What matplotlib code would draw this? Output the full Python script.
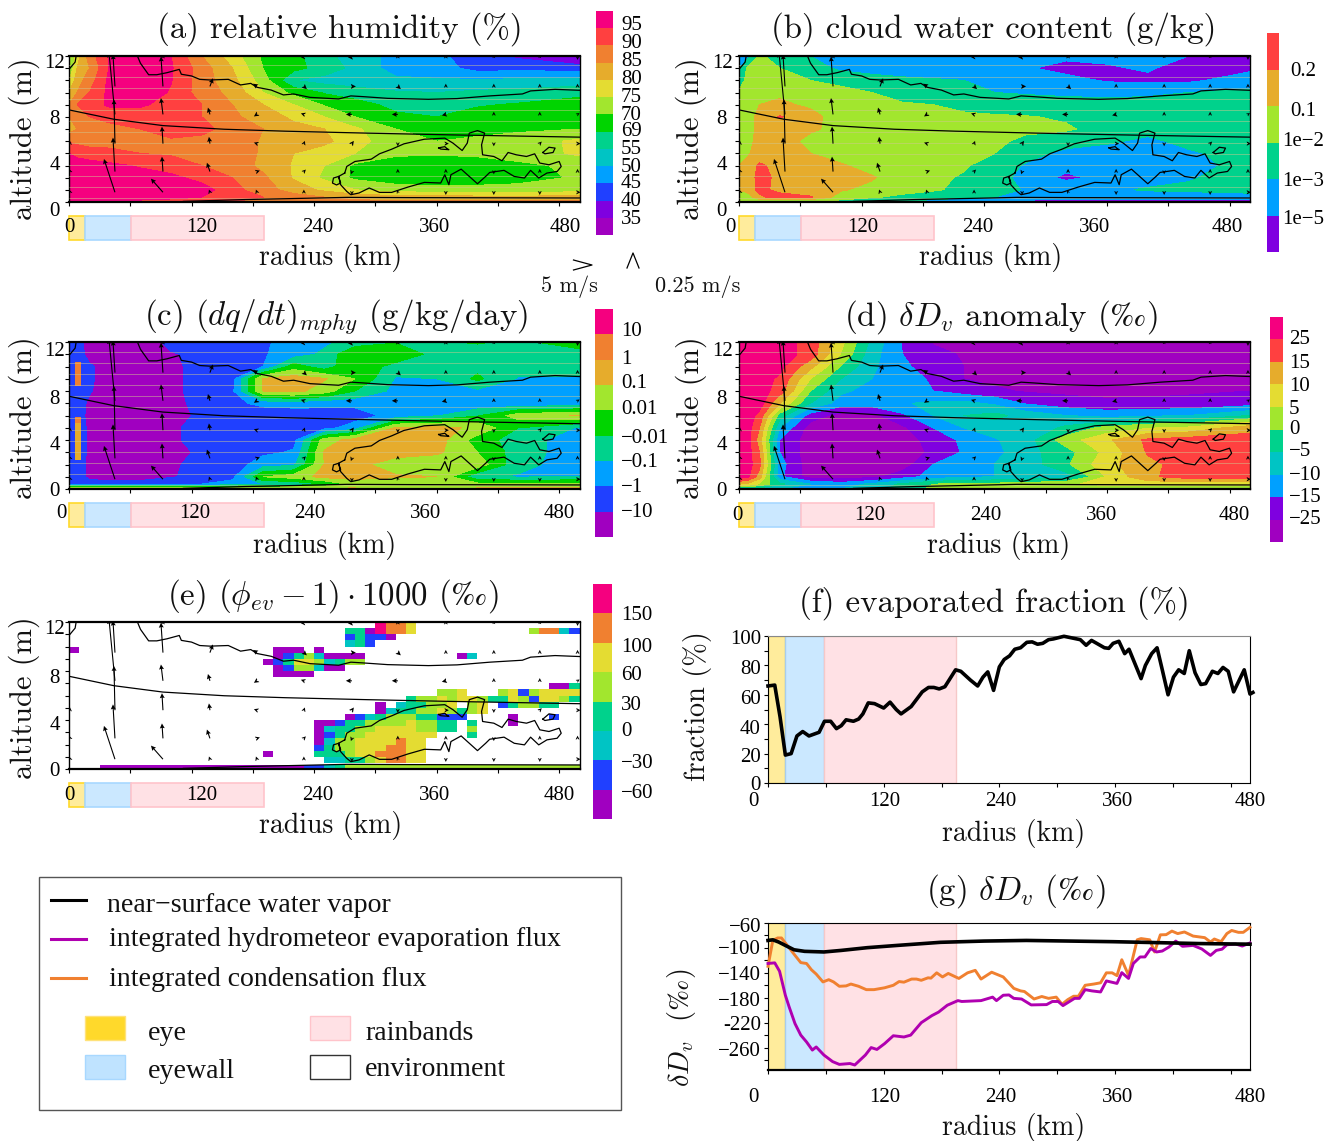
import numpy as np
import matplotlib
matplotlib.use("Agg")
import matplotlib.pyplot as plt
from matplotlib.colors import ListedColormap, BoundaryNorm
from matplotlib.cm import ScalarMappable
from matplotlib.patches import Rectangle
from matplotlib.lines import Line2D
from matplotlib.transforms import ScaledTranslation

plt.rcParams['font.family'] = ['cmr10', 'Liberation Serif', 'DejaVu Sans']
plt.rcParams['mathtext.fontset'] = 'cm'
plt.rcParams['axes.unicode_minus'] = False
TICKFONT = 'Liberation Serif'

W, H = 1336, 1141
fig = plt.figure(figsize=(W/100, H/100), dpi=100)

# ---- palette
PURPLE, INDIGO, BLUE, SKY, TEAL, SEA = '#A000C0', '#7F00E0', '#2040FF', '#00A0FF', '#00C4C4', '#00D28C'
GREEN, LIME, YELLOW, GOLD, ORANGE, RED, PINK = '#00D400', '#A2E62E', '#E4DC32', '#E6AC2C', '#F08030', '#FF4040', '#F5007F'

# ---- grid of the radius-height fields (values in colour-class units)
radius_km = [0, 8, 20, 40, 70, 100, 130, 160, 190, 220, 250, 280, 320, 360, 400, 440, 500]
height_km = [12, 11, 10, 9, 8, 7, 6, 5, 4, 3, 2, 1, 0.4, 0]

humidity_class = [
 [6.5,8.5,10.5,12.1,12.5,12.0,10.0,8.5,6.8,6.3,5.3,4.5,3.7,3.3,2.3,1.8,0.8],
 [7.0,9.0,10.0,12.1,12.5,12.1,10.5,9.0,7.0,6.3,5.6,4.7,3.6,3.5,2.6,2.7,2.5],
 [8.0,9.5,10.5,12.3,12.6,12.05,10.5,9.3,7.5,5.0,4.6,4.4,4.2,4.1,4.1,4.2,4.3],
 [9.0,10.0,11.0,12.3,12.6,11.9,10.5,9.7,8.0,6.7,5.9,5.5,5.1,5.0,5.2,5.3,5.8],
 [10.0,11.0,11.5,12.2,12.2,11.5,11.0,10.0,9.0,8.0,6.9,6.4,5.7,5.6,5.9,6.1,6.3],
 [10.0,10.5,11.0,11.3,11.3,11.2,11.0,10.2,9.5,8.8,8.0,7.0,6.2,6.0,6.4,6.5,6.5],
 [9.5,10.0,10.5,10.7,11.0,11.3,11.3,10.6,10.0,9.3,9.0,8.2,7.0,6.4,6.5,6.8,7.0],
 [10.9,10.7,10.5,10.6,10.8,10.9,10.7,10.5,9.9,9.5,9.2,8.5,7.2,7.0,7.3,7.5,8.2],
 [12.0,11.7,11.5,11.3,11.0,10.9,10.8,10.4,9.9,9.0,8.6,8.0,7.2,7.1,7.2,7.4,8.2],
 [12.5,12.5,12.4,12.2,11.9,11.4,11.0,10.7,9.7,8.9,8.0,6.8,6.4,6.4,6.5,6.8,7.2],
 [12.6,12.6,12.6,12.6,12.4,12.3,11.6,11.0,10.2,8.9,7.8,6.8,6.4,6.4,6.5,6.7,7.1],
 [12.7,12.7,12.7,12.7,12.6,12.5,12.5,11.3,10.5,9.5,8.8,8.0,7.5,7.3,7.3,7.3,7.5],
 [12.3,12.3,12.3,12.3,12.3,12.3,12.0,11.6,11.0,10.5,10.0,9.7,9.4,9.4,9.3,9.3,9.3],
 [12.0,12.0,12.0,12.0,11.8,11.5,11.2,11.0,10.8,10.6,10.4,10.3,10.2,10.2,10.2,10.2,10.2],
]
cloud_class = [
 [1.5,1.6,3.1,2.7,2.0,1.5,1.4,1.4,1.4,1.3,1.3,1.2,1.2,1.2,1.1,1.0,0.5],
 [1.9,3.1,3.4,3.0,2.4,1.8,1.6,1.5,1.4,1.3,1.3,1.1,0.7,0.9,1.1,0.6,0.8],
 [2.6,3.2,3.5,3.5,3.0,2.7,2.4,2.2,2.1,2.0,1.8,1.4,1.3,0.9,0.8,0.8,1.5],
 [3.1,3.3,3.6,3.9,3.6,3.3,3.0,2.6,2.5,2.4,2.0,1.9,1.8,1.7,1.8,2.0,2.2],
 [3.2,3.5,4.0,4.1,3.9,3.5,3.3,3.1,3.0,2.7,2.6,2.5,2.4,2.4,2.4,2.5,2.5],
 [3.3,3.7,4.2,5.1,4.2,3.7,3.5,3.4,3.3,3.2,3.1,3.05,2.9,2.6,2.6,2.6,2.6],
 [3.4,3.7,4.2,4.4,4.1,3.8,3.6,3.5,3.4,3.3,3.2,3.1,3.1,2.7,2.5,2.6,2.7],
 [3.6,3.8,4.2,4.3,3.8,3.5,3.4,3.3,3.2,3.2,3.1,2.9,2.5,2.2,1.7,2.4,2.7],
 [3.7,3.9,4.3,4.4,4.0,3.6,3.5,3.4,3.3,3.2,3.0,2.4,1.7,1.4,1.4,1.8,2.6],
 [4.0,4.2,5.2,4.6,4.3,4.1,3.6,3.4,3.3,3.1,2.6,1.9,1.3,1.2,1.4,1.5,2.5],
 [4.1,4.3,5.4,4.7,4.3,4.2,4.1,3.4,3.2,2.9,2.5,1.6,0.8,1.3,1.6,1.9,2.5],
 [4.1,4.3,5.3,4.7,4.4,4.1,3.7,3.3,3.1,2.8,2.5,1.9,1.7,1.8,2.1,2.2,2.5],
 [3.3,3.4,4.8,5.4,5.1,3.5,3.1,2.8,2.5,2.3,2.0,1.6,1.5,1.4,1.4,1.4,1.4],
 [3.0,3.0,3.0,3.0,2.9,2.6,2.2,1.9,1.5,1.1,0.8,0.6,0.6,0.5,0.5,0.5,0.5],
]
tendency_class = [
 [1.0,1.5,0.5,0.4,0.4,1.3,1.4,1.5,1.8,2.5,2.8,3.4,3.9,3.9,4.1,3.8,4.5],
 [1.0,1.7,0.5,0.4,0.4,0.9,1.3,1.5,1.9,2.5,3.2,5.0,5.0,3.5,3.5,3.5,3.6],
 [1.0,1.7,1.2,0.4,0.4,0.8,1.3,1.6,2.0,4.5,3.4,5.0,3.5,3.4,3.7,3.5,3.4],
 [1.2,1.8,1.2,0.4,0.4,0.8,1.3,1.6,6.1,6.5,6.1,5.0,2.9,3.0,4.2,2.9,2.9],
 [1.2,1.6,1.1,0.4,0.4,0.8,1.3,1.8,6.0,6.3,5.5,4.0,2.7,2.7,2.8,2.6,2.7],
 [1.4,1.5,0.8,0.4,0.4,0.8,1.2,1.7,2.3,2.4,2.3,2.3,2.2,2.2,2.2,2.2,2.2],
 [1.4,1.5,0.7,0.4,0.4,0.6,1.2,1.3,1.3,1.4,1.5,1.5,2.4,2.9,3.9,5.5,6.1],
 [1.9,1.8,0.7,0.4,0.4,0.9,1.2,1.3,1.3,1.4,1.6,2.5,6.1,6.3,5.8,4.0,2.9],
 [1.9,1.8,0.7,0.4,0.4,0.9,1.2,1.2,1.4,1.7,5.5,6.4,6.5,6.5,4.5,3.5,2.4],
 [1.5,1.8,0.7,0.4,0.4,0.8,1.1,1.3,1.8,2.1,6.1,6.4,6.4,6.2,5.0,3.5,2.4],
 [1.5,1.7,0.7,0.4,0.4,0.9,1.2,1.5,2.5,2.8,6.0,6.3,5.5,5.2,5.6,3.3,2.5],
 [1.4,1.6,0.7,0.4,0.4,0.9,1.4,1.7,5.0,5.5,6.3,6.4,6.1,6.0,3.2,2.9,3.0],
 [1.8,1.8,1.5,1.5,1.6,1.8,2.0,2.4,3.0,3.2,4.0,5.3,5.3,5.4,5.3,5.3,5.3],
 [7.0,7.0,6.5,6.5,6.5,6.4,6.3,6.3,6.3,6.3,6.3,6.2,5.5,5.5,6.2,6.2,6.2],
]
# narrow eyewall columns of panel (c): bottom, top (km)
spike_bottom = [8.4, 2.4, 5.4]
spike_top = [10.4, 5.4, 5.9]
spike_colors = [ORANGE, GOLD, ORANGE]
spike_left, spike_width = 5.5, 6.0

anomaly_class = [
 [9.5,9.5,9.5,9.5,8.6,6.3,3.7,1.9,0.9,0.5,0.5,0.5,0.5,0.5,0.5,0.5,0.5],
 [9.5,9.5,9.5,9.5,8.6,5.9,3.4,2.0,1.3,0.9,0.5,0.5,0.5,0.5,0.5,0.5,0.5],
 [9.5,9.5,9.5,9.3,7.3,4.9,3.2,2.2,1.5,1.0,0.5,0.5,0.5,0.5,0.5,0.5,0.5],
 [9.5,9.5,9.5,8.8,6.0,4.0,3.0,2.6,1.8,1.0,0.7,0.5,0.5,0.5,0.5,0.5,0.5],
 [9.5,9.5,9.5,8.5,5.0,3.2,2.6,2.4,2.0,1.5,1.2,0.9,0.8,0.7,0.8,0.9,1.0],
 [9.5,9.5,9.5,7.0,4.0,2.5,2.5,2.9,3.2,3.3,2.8,1.9,1.4,1.2,1.2,1.2,1.5],
 [9.5,9.5,8.7,4.5,1.5,0.6,0.7,1.8,3.0,4.0,4.3,3.6,3.0,2.6,2.8,3.0,4.0],
 [9.5,9.5,8.0,3.0,0.5,0.4,0.4,0.8,2.0,3.0,3.4,3.2,4.2,5.3,5.9,6.2,7.6],
 [9.5,9.5,7.5,2.0,0.4,0.4,0.4,0.5,1.4,2.2,2.9,3.5,5.5,6.8,8.2,8.5,8.5],
 [9.5,9.5,8.0,2.0,0.4,0.4,0.4,0.4,1.2,2.1,2.7,3.6,4.6,6.3,8.1,8.5,8.5],
 [9.5,9.5,8.3,2.4,0.4,0.4,0.4,0.5,2.0,2.5,3.0,3.4,4.8,6.7,7.7,8.5,8.5],
 [9.5,9.3,7.5,2.2,0.5,0.4,0.7,1.5,2.4,2.8,3.0,3.3,3.5,6.1,7.8,8.5,8.5],
 [7.0,6.8,5.8,4.2,3.0,2.5,3.2,4.2,5.0,5.2,5.3,5.5,5.9,6.2,6.3,6.3,6.4],
 [3.5,3.5,3.3,3.0,2.9,3.0,3.4,4.5,5.2,5.5,5.5,5.5,6.0,5.5,5.3,5.3,5.3],
]
# panel (e): sparse patches, (height of cell bottom, first radius, class per 10 km)
phi_cells = [
 (0.5, 250, [2,2,3,3,4,5,6,6,5,5]),
 (1.0, 190, [0]),
 (1.0, 240, [3,3,3,4,5,5,6,6,6,5,5]),
 (1.5, 240, [1,3,4,4,5,5,5,6,6,5,5]),
 (2.0, 240, [0,2,4,4,5,5,5,5,6,5,5]),
 (2.5, 240, [0,1,3,4,4,5,5,5,5,5,5,5]),
 (2.5, 390, [3]),
 (3.0, 240, [0,2,3,3,4,4,5,5,5,5,4,4,3,3]),
 (3.0, 390, [4]),
 (3.5, 240, [0,0,1,3,3,4,4,4,4,5,4,4,3,3]),
 (3.5, 390, [3]),
 (3.5, 430, [0]),
 (4.0, 270, [0,1,2,3,4,4,4,3,3,1,1,1]),
 (4.0, 430, [0]),
 (4.0, 470, [1]),
 (4.5, 300, [0,2,3,3,4,4,5,4,3]),
 (4.5, 390, [4,5]),
 (5.0, 300, [0]),
 (5.0, 320, [2,3,3,4,4,5]),
 (5.0, 390, [4,5]),
 (5.0, 420, [1,3,4,4,3,3]),
 (5.5, 330, [3,4,4,5,4,5,5,4,3]),
 (5.5, 420, [3,5,4,1,5,5,4,3,4,4]),
 (6.0, 360, [4,4,5]),
 (6.0, 420, [4,5,1,4,5,5,5,5,3,4]),
 (6.5, 470, [0,0,3]),
 (7.5, 200, [0,0,0,0]),
 (8.0, 200, [0,1,4,4,2,0,0]),
 (8.5, 190, [0,1,3,5,5,4,2,3,4,4]),
 (9.0, 200, [0,1,3,4,2,0,0,0,0]),
 (9.0, 380, [0,2]),
 (9.5, 200, [0,0,0]),
 (9.5, 240, [0]),
 (9.5, 0, [0]),
 (10.0, 270, [2,3,1]),
 (10.5, 270, [1,3,1,1,0]),
 (11.0, 270, [3,3,0]),
 (11.0, 300, [7,6,6,5]),
 (11.0, 450, [4,6,6,2,1]),
 (11.5, 300, [7,6,6,5]),
]
phi_floor = [0]*20 + [1,1,2,3] + [4]*23   # lowest layer, 30-500 km per 10 km
phi_heights = np.arange(0, 12.5, 0.5)
phi_radii = np.arange(0, 510, 10)

# ---- overlaid contour lines (radius km, height km)
upper_r = [67,70,78,86,96,108,110,120,128,138,156,168,178,184,198,210,220,236,264,276,288,312,352,380,412,444,452,476,500]
upper_z = [12,11.4,10.46,10.46,10.63,10.9,10.5,10.36,10.08,10.03,10.08,9.62,9.75,9.43,9.2,8.8,8.88,8.6,8.47,8.72,8.66,8.52,8.44,8.5,8.72,8.88,9.13,9.26,9.18]
slope_r = [0,44,92,152,212,292,372,500]
slope_z = [7.57,6.8,6.28,5.98,5.82,5.66,5.52,5.33]
surface_r = [112,172,212,272,332,500]
surface_z = [0.05,0.2,0.27,0.38,0.36,0.33]
blob_r = [270,272,280,296,304,316,328,348,368,376,385,390,392,400,407,404,405,416,424,430,438,448,456,461,470,480,482,478,468,460,452,446,436,426,412,408,400,392,384,374,372,368,364,348,332,316,304,294,284,276,272,266,264,259,258,262,266,264,270]
blob_z = [2.38,2.92,3.33,3.52,3.96,4.34,4.78,5.16,5.25,4.84,4.23,4.84,5.66,5.87,5.66,4.7,3.88,3.74,3.39,4.07,3.88,3.74,3.96,3.2,3.06,3.33,2.92,2.51,2.38,1.97,2.6,1.97,2.1,2.6,2.43,2.1,1.5,2.1,2.7,2.24,1.42,2.24,1.56,1.61,1.23,0.79,0.79,1.15,0.74,0.6,0.87,1.42,2.1,1.97,1.56,1.4,1.56,2.1,2.38]
islet_r = [464,470,476,474,466,464]
islet_z = [4.07,4.5,4.43,4.07,3.96,4.07]
speck_r = [362,368,370,372,364,362]
speck_z = [4.45,4.55,4.4,4.3,4.35,4.45]
corner_r = [1,6,7,6]
corner_z = [11,11.5,12,12]

# ---- winds (m/s)
wind_r = [1,45,92,138,184,230,277,322,369,416,461,498]
wind_z = [0.8,2.5,4.8,7.2,9.5,11.9]
wind_u = [
 [-.25,-2.75,-3,-.25,-.25,0,0,-.25,0,0,0,.75],
 [-.25,-.5,-.25,-.75,.75,.5,-.25,0,0,0,0,0],
 [0,-.25,-.25,-.25,-.75,.25,.5,0,.75,0,.5,.75],
 [0,-1.5,-.5,-.5,-.75,-.75,-1.5,-1.5,-1,0,0,.5],
 [0,-.5,-.5,.75,-1,.75,1,.75,0,0,0,0],
 [0,0,0,0,0,-.75,-1,0,0,0,0,0],
]
wind_w = [
 [.04,.49,.2,.04,.04,.04,-.04,.03,-.04,-.04,-.04,0],
 [.04,.5,.22,.13,.015,.03,-.04,.04,.04,-.04,.04,.04],
 [.04,.65,.25,.1,.015,.04,.04,-.04,0,-.04,.03,0],
 [0,.91,.24,.1,-.03,.015,0,0,-.015,.04,.04,.02],
 [0,.47,.44,.12,.04,-.04,0,-.04,.04,.04,.04,.04],
 [0,0,.04,0,0,0,0,.04,.04,.03,.03,-.04],
]

# ---- line panels
frac_r = [0,7,12.5,18,24,30,36,42.5,53,58.6,65,71,76,81,88.6,94,98.4,104,110.5,120,126.6,133,138,148.5,160,166.5,172,177.6,183.5,194.6,200,210,217.5,223,228,234,240,245,250.6,256,262,268.5,274,279.6,285,291,296,307,313,324,330,335.6,341,349,353.5,358,364,370,374.5,387,391.5,398,403.6,409,415,420.6,426,431.8,437,443,449,454,461,466.7,472,477.4,483,494,500,503]
frac_val = [66,66.6,45,19,20,32,35,32,34.5,42,42,37,39,43,42,43.5,47,54.5,54,51,55,50,47,52,62,65,65,64,65.5,77,76,70,66,72,75.6,63,79,84,86.5,91,92,95.7,96,94.4,95,97.5,98,99.8,99,97.5,93.7,97,95,92,91.6,95,96.4,88,91,71,80,88,92,77,60,72,77,74.5,90,75,67,67.6,76,74.5,78.6,76,62,77,60.5,61.6]

vapor_r = [0,5,11,18,27,38,58,76,103,134,179,224,268,313,358,403,447,500]
vapor_d = [-88,-87,-90.5,-96,-103,-105.5,-106.5,-104,-99.6,-96,-91,-89,-88,-89,-90,-91.5,-93,-94]
cond_r = [0,5,10,14,20,27,34,40,45,50,57,63,68,74,81,86,94,102,110,121,130,136,141,149,154,159,166,169,175,181,187,198,207,215,221,232,244,255,262,266,276,284,291,299,305,311,317,322,329,338,345,351,357,362,367,374,383,387,396,401,407,413,419,425,432,441,453,459,463,470,476,481,488,493,500]
cond_d = [-129.5,-88,-84,-84,-96,-110,-123.6,-125,-135,-142,-154.6,-151,-154.6,-161.6,-161,-158,-161.6,-167,-167,-164,-160,-154,-155,-150,-150,-152,-148,-148.5,-140,-146.6,-141,-149,-140,-136,-150,-139,-146.6,-165,-169,-170,-182,-178,-181,-179,-190.5,-183,-177.6,-177.6,-160,-158,-156,-140,-140,-144.5,-119,-144,-87,-85,-87,-106.5,-79,-78.7,-73,-77,-74.4,-81,-83.5,-90.5,-85.7,-90,-77,-72,-75,-75,-67]
evap_r = [0,7,12,18,22,28,34,40,46,50,58,67,74,85,90,101,107,113,121,130,141,148,159,170,177,186,197,201,221,233,237,244,250,255,263,273,289,295,301,306,318,323,329,336,345,351,362,367,374,379,386,391,397,403,409,416,423,430,441,450,459,465,471,476,485,492,500]
evap_d = [-125,-124,-137.5,-176,-195,-221.5,-240,-251,-264,-259,-272,-282.5,-287,-285.6,-288,-272,-260,-263,-253.6,-241,-243,-240,-220,-208.7,-203,-192,-184.6,-186,-184.6,-179,-184.6,-176,-175.5,-181,-182,-191.5,-191,-186,-186,-192.6,-181,-181,-167,-169,-170.7,-153,-157,-139.7,-149,-125,-114.5,-114.5,-101,-106.5,-105,-98.5,-89,-97.4,-96,-101.7,-112,-104,-102,-95,-93.7,-97,-92]

# ---- text
panel_ticks_x = [0, 120, 240, 360, 480]
labels_x = ['0', '120', '240', '360', '480']
labels_z = ['0', '4', '8', '12']
strip_edges = [0, 15.5, 61, 191]
band_edges = [0, 18, 58, 195]
TITLE_SIZE = 23.7
RADIUS_SIZE = 20
TEXT_DROP = 2


def add_axes_px(x0, y0, x1, y1):
    return fig.add_axes([x0/W, 1-y1/H, (x1-x0)/W, (y1-y0)/H])


def shift(dx, dy):
    return ScaledTranslation(dx/100, dy/100, fig.dpi_scale_trans)


def place_x_labels(ax, box, targets, y):
    x0, y0, x1, y1 = box
    for t, tgt, pos in zip(ax.xaxis.get_major_ticks(), targets, panel_ticks_x):
        tick_px = x0 + (pos-ax.get_xlim()[0])/(ax.get_xlim()[1]-ax.get_xlim()[0])*(x1-x0)
        t.label1.set_transform(ax.get_xaxis_transform() + shift(tgt-tick_px, -(y+TEXT_DROP-y1)))
        t.label1.set_va('center')
        t.label1.set_ha('center')
        t.label1.set_fontfamily(TICKFONT)
        t.label1.set_fontsize(15)


def place_y_labels(ax, box, values, right_xs, ys):
    x0, y0, x1, y1 = box
    lo, hi = ax.get_ylim()
    for t, v, rx, tgt in zip(ax.yaxis.get_major_ticks(), values, right_xs, ys):
        tick_px = y1 - (v-lo)/(hi-lo)*(y1-y0)
        t.label1.set_transform(ax.get_yaxis_transform() + shift(rx-x0, -(tgt+TEXT_DROP-tick_px)))
        t.label1.set_va('center')
        t.label1.set_ha('right')
        t.label1.set_fontfamily(TICKFONT)
        t.label1.set_fontsize(15)


def set_center_text(ax, box, txt, cx, cy, size, kind):
    x0, y0, x1, y1 = box
    fx, fy = (cx-x0)/(x1-x0), (y1-cy)/(y1-y0)
    rot = 90 if kind == 'y' else 0
    ax.text(fx, fy, txt, transform=ax.transAxes, ha='center', va='center',
            fontsize=size, rotation=rot, clip_on=False, color='#111111')


def field_frame(ax, box, title, title_xy, xlab_xy, ylab_xy, xtargets, xlabel_y, ylab_rights, ylab_ys):
    ax.set_xlim(0, 500)
    ax.set_ylim(0, 12)
    ax.set_xticks(panel_ticks_x, labels_x)
    ax.set_xticks(range(60, 500, 120), minor=True)
    ax.set_yticks([0, 4, 8, 12], labels_z)
    ax.set_yticks([1, 2, 3, 5, 6, 7, 9, 10, 11], minor=True)
    ax.tick_params(which='both', length=3, width=0.8, direction='out')
    for s in ('top', 'bottom'):
        ax.spines[s].set_linewidth(1.6)
    for s in ('left', 'right'):
        ax.spines[s].set_linewidth(1.0)
    place_x_labels(ax, box, xtargets, xlabel_y)
    place_y_labels(ax, box, [0, 4, 8, 12], ylab_rights, ylab_ys)
    set_center_text(ax, box, title, title_xy[0], title_xy[1]+1, TITLE_SIZE, 't')
    set_center_text(ax, box, 'radius (km)', xlab_xy[0], xlab_xy[1]+2, RADIUS_SIZE, 'x')
    set_center_text(ax, box, 'altitude (m)', *ylab_xy, 22, 'y')
    # region strip under the axis
    h = box[3]-box[1]
    styles = [('#FFEC9C', '#FFD92B'), ('#CBE8FF', '#A8D8FF'), ('#FFE1E5', '#FFC4CB')]
    for i, (fc, ec) in enumerate(styles):
        ax.add_patch(Rectangle((strip_edges[i], -38/h), strip_edges[i+1]-strip_edges[i], 24/h,
                               transform=ax.get_xaxis_transform(), clip_on=False,
                               facecolor=fc, edgecolor=ec, linewidth=1.2, zorder=1))


def overlays(ax):
    kw = dict(color='black', lw=0.9, zorder=4)
    ax.plot(upper_r, upper_z, **kw)
    ax.plot(slope_r, slope_z, **kw)
    ax.plot(surface_r, surface_z, **kw)
    ax.plot(blob_r, blob_z, **kw)
    ax.plot(islet_r, islet_z, **kw)
    ax.plot(speck_r, speck_z, **kw)
    ax.plot(corner_r, corner_z, **kw)
    u = np.array(wind_u, float)
    w = np.array(wind_w, float)
    rr, zz = np.meshgrid(wind_r, wind_z)
    keep = (u != 0) | (w != 0)
    ax.quiver(rr[keep], zz[keep], u[keep]*4, w[keep]*68, angles='uv', scale_units='dots', scale=1,
              units='dots', width=1.1, headwidth=4.5, headlength=4.5, headaxislength=4,
              minshaft=0.7, minlength=0, color='black', zorder=5, pivot='tail')


def stripes(ax):
    ax.hlines(np.arange(0.3, 11.9, 0.91), 0, 500, colors='#d0c890', lw=0.7, alpha=0.5, zorder=3)


def colorbar(box, colors, labels, targets, left, center=False):
    n = len(colors)
    cax = add_axes_px(*box)
    cmap = ListedColormap(colors)
    norm = BoundaryNorm(np.arange(n+1), n)
    cb = fig.colorbar(ScalarMappable(norm=norm, cmap=cmap), cax=cax, spacing='uniform')
    cb.outline.set_visible(False)
    cb.minorticks_off()
    ticks = list(range(n-len(labels), n))
    cb.set_ticks(ticks, labels=labels)
    cax.yaxis.set_ticks_position('left')
    cax.tick_params(length=0)
    x0, y0, x1, y1 = box
    for t, v, tgt in zip(cax.yaxis.get_major_ticks(), ticks, targets):
        tick_px = y1 - v/n*(y1-y0)
        t.label1.set_transform(cax.get_yaxis_transform() + shift(left-x0, -(tgt+TEXT_DROP-tick_px)))
        t.label1.set_va('center')
        t.label1.set_ha('center' if center else 'left')
        t.label1.set_fontfamily(TICKFONT)
        t.label1.set_fontsize(15)
    return cmap, norm


def fill(ax, grid, colors):
    ax.contourf(radius_km, height_km, np.array(grid, float), levels=np.arange(len(colors)+1), colors=colors, zorder=1)


PCT = '($‰$)'
BOX_A = (69, 56, 579.6, 202)
BOX_B = (739, 56, 1250, 202)
BOX_C = (69, 342, 579.6, 489)
BOX_D = (739, 342, 1250, 489)
BOX_E = (69, 622, 579.6, 769)
BOX_F = (768, 636, 1250, 783)
BOX_G = (768, 923, 1250, 1070)

# (a)
colors_a = [PURPLE, INDIGO, BLUE, SKY, TEAL, SEA, GREEN, LIME, YELLOW, GOLD, ORANGE, RED, PINK]
ax = add_axes_px(*BOX_A)
fill(ax, humidity_class, colors_a)
stripes(ax); overlays(ax)
field_frame(ax, BOX_A, '(a) relative humidity (%)', (340, 28), (331, 256), (24, 139),
            [69, 202, 318, 435, 565], 226, [60, 60, 60, 65], [210, 163, 117, 62])
colorbar((596, 11, 613, 235), colors_a,
         ['35', '40', '45', '50', '55', '69', '70', '75', '80', '85', '90', '95'],
         [217, 200, 182, 165, 147, 130, 113, 96, 78, 60, 42, 23], 621)

# (b)
colors_b = [INDIGO, SKY, SEA, LIME, GOLD, RED]
ax = add_axes_px(*BOX_B)
fill(ax, cloud_class, colors_b)
stripes(ax); overlays(ax)
field_frame(ax, BOX_B, '(b) cloud water content (g/kg)', (994, 28), (991, 256), (691, 139),
            [730, 863, 978, 1095, 1227], 226, [727, 727, 727, 733], [210, 163, 117, 62])
colorbar((1267, 33, 1279, 252), colors_b, ['1e−5', '1e−3', '1e−2', '0.1', '0.2'],
         [217, 179, 140, 109, 70], 1303, center=True)

# (c)
colors_c = [PURPLE, BLUE, SKY, SEA, GREEN, LIME, GOLD, ORANGE, PINK]
ax = add_axes_px(*BOX_C)
fill(ax, tendency_class, colors_c)
ax.bar([spike_left]*3, np.subtract(spike_top, spike_bottom), width=spike_width, bottom=spike_bottom,
       color=spike_colors, align='edge', zorder=2)
stripes(ax); overlays(ax)
field_frame(ax, BOX_C, r'(c) $(dq/dt)_{mphy}$ (g/kg/day)', (336, 316), (325, 544), (24, 418),
            [61, 195, 310, 426, 559], 512, [60, 60, 60, 65], [490, 443, 397, 350])
colorbar((595, 309, 613, 537), colors_c, ['−10', '−1', '−0.1', '−0.01', '0.01', '0.1', '1', '10'],
         [510, 485, 460, 436, 408, 381, 357, 329], 621)

# (d)
colors_d = [PURPLE, INDIGO, SKY, TEAL, SEA, LIME, YELLOW, GOLD, RED, PINK]
ax = add_axes_px(*BOX_D)
fill(ax, anomaly_class, colors_d)
stripes(ax); overlays(ax)
field_frame(ax, BOX_D, r'(d) $\delta D_v$ anomaly ' + PCT, (1001, 316), (999, 544), (691, 418),
            [737, 870, 986, 1102, 1234], 513, [727, 727, 727, 733], [490, 443, 397, 350])
colorbar((1270, 317, 1283, 542), colors_d,
         ['−25', '−15', '−10', '−5', '0', '5', '10', '15', '25'],
         [518, 495, 473, 450, 427, 408, 385, 362, 338], 1289)

# (e)
colors_e = [PURPLE, BLUE, TEAL, SEA, LIME, YELLOW, ORANGE, PINK]
ax = add_axes_px(*BOX_E)
phi = np.full((len(phi_heights)-1, len(phi_radii)-1), np.nan)
for zb, r0, vals in phi_cells:
    j = int(round(zb/0.5))
    i = int(round(r0/10))
    phi[j, i:i+len(vals)] = vals[:phi.shape[1]-i]
phi_cmap = ListedColormap(colors_e)
phi_norm = BoundaryNorm(np.arange(9), 8)
ax.pcolormesh(phi_radii, phi_heights, phi+0.5, cmap=phi_cmap, norm=phi_norm, zorder=1)
ax.pcolormesh(np.arange(30, 510, 10), [0, 0.3], np.array([phi_floor], float)+0.5, cmap=phi_cmap, norm=phi_norm, zorder=1)
overlays(ax)
field_frame(ax, BOX_E, r'(e) $(\phi_{ev}-1)\cdot 1000$ ' + PCT, (333, 595), (331, 823), (24, 698),
            [69, 202, 318, 435, 559], 793, [60, 60, 60, 65], [769, 723, 677, 628])
colorbar((593, 584, 612, 819), colors_e, ['−60', '−30', '0', '30', '60', '100', '150'],
         [792, 761, 730, 704, 674, 645, 613], 621)


def line_frame(ax, box, ylim, yticks, ylabels, yminor, ytargets, xlabel_y, title, title_xy, xlab_xy, ylab, ylab_xy):
    ax.set_xlim(0, 500)
    ax.set_ylim(*ylim)
    ax.set_xticks(panel_ticks_x, labels_x)
    ax.set_xticks(range(60, 500, 120), minor=True)
    ax.set_yticks(yticks, ylabels)
    ax.set_yticks(yminor, minor=True)
    ax.tick_params(which='both', length=3, width=0.8, direction='out')
    styles = [('#FFEC9C', '#EBCF5A'), ('#CBE8FF', '#A8CDEB'), ('#FFE1E5', '#F6C8C8')]
    for i, (fc, ec) in enumerate(styles):
        ax.axvspan(band_edges[i], band_edges[i+1], facecolor=fc, edgecolor=ec, lw=1, zorder=1)
    place_x_labels(ax, box, [753, 885, 1001, 1118, 1250], xlabel_y)
    place_y_labels(ax, box, yticks, [761]*len(yticks), ytargets)
    set_center_text(ax, box, title, title_xy[0], title_xy[1]+1, TITLE_SIZE, 't')
    set_center_text(ax, box, 'radius (km)', xlab_xy[0], xlab_xy[1]+2, RADIUS_SIZE, 'x')
    set_center_text(ax, box, ylab, *ylab_xy, 20.3, 'y')


# (f)
ax = add_axes_px(*BOX_F)
ax.plot(frac_r, frac_val, color='black', lw=2.6, clip_on=False, zorder=4)
line_frame(ax, BOX_F, (0, 100), [0, 20, 40, 60, 80, 100], ['0', '20', '40', '60', '80', '100'],
           [10, 30, 50, 70, 90], [783, 755, 727, 697, 667, 638], 800,
           '(f) evaporated fraction (%)', (994, 602), (1014, 831), 'fraction (%)', (697, 706))
ax.spines['top'].set_color('#888888')

# (g)
ax = add_axes_px(*BOX_G)
ax.plot(cond_r, cond_d, color='#F08030', lw=2.1, clip_on=False, zorder=4)
ax.plot(evap_r, evap_d, color='#B000B0', lw=2.1, clip_on=False, zorder=4)
ax.plot(vapor_r, vapor_d, color='black', lw=2.6, clip_on=False, zorder=5)
line_frame(ax, BOX_G, (-296, -60), [-260, -220, -180, -140, -100, -60],
           ['−260', '-220', '−180', '−140', '−100', '−60'],
           [-280, -240, -200, -160, -120, -80], [1049, 1023, 999, 974, 948, 925], 1096,
           r'(g) $\delta D_v$ ' + PCT, (1016, 890), (1014, 1126), r'$\delta D_v$  ' + PCT, (682, 1028))
ax.spines['bottom'].set_linewidth(1.6)

# ---- legend and wind key drawn in figure pixels
ov = fig.add_axes([0, 0, 1, 1], zorder=-1)
ov.set_xlim(0, W); ov.set_ylim(H, 0); ov.axis('off')
ov.add_patch(Rectangle((38.6, 877), 582.4, 233, facecolor='white', edgecolor='#555555', lw=1))
for y, c in zip([900, 939, 978], ['black', '#B000B0', '#F08030']):
    ov.add_line(Line2D([51, 86], [y, y], color=c, lw=2.2))
legend_texts = [('near−surface water vapor', 107, 905), ('integrated hydrometeor evaporation flux', 109, 940),
                ('integrated condensation flux', 109, 979), ('eye', 148, 1034), ('eyewall', 148, 1072),
                ('rainbands', 365, 1033), ('environment', 365, 1070)]
for s, x, y in legend_texts:
    ov.text(x, y, s, family=TICKFONT, fontsize=20.1, va='center', ha='left', color='#111111')
for x, y, fc, ec in [(84.5, 1016, '#FFD92B', '#FFE27A'), (84.5, 1055, '#BFE3FF', '#A8D8FF'),
                     (310, 1016, '#FFE1E5', '#FFC4CB'), (310, 1055, 'white', '#333333')]:
    ov.add_patch(Rectangle((x, y), 40, 24, facecolor=fc, edgecolor=ec, lw=1))
ov.add_line(Line2D([573.5, 592, 573.5], [260, 265, 270], color='black', lw=0.9))
ov.add_line(Line2D([627, 633, 639], [268, 253, 268], color='black', lw=0.9))
ov.text(569, 287, '5 m/s', fontsize=16, ha='center', va='center', color='#111111')
ov.text(698, 287, '0.25 m/s', fontsize=16, ha='center', va='center', color='#111111')

fig.savefig('out.png', dpi=100)
